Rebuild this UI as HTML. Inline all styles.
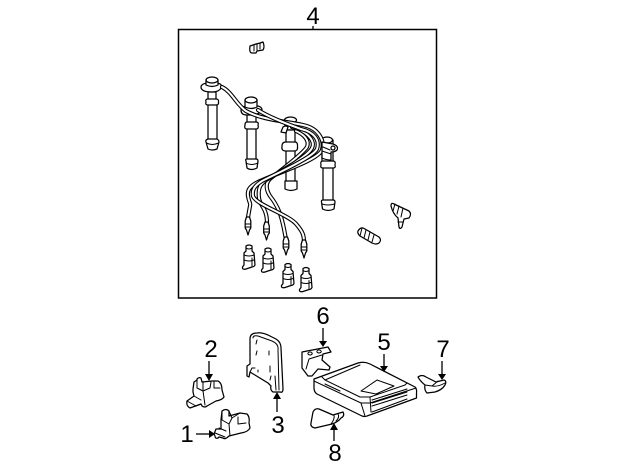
<!DOCTYPE html>
<html><head><meta charset="utf-8"><style>
html,body{margin:0;padding:0;background:#fff}
svg{display:block}
text{font-family:"Liberation Sans",sans-serif;font-size:24px;fill:#000;text-anchor:middle}
.l{fill:#fff;stroke:#000;stroke-width:1.25;stroke-linejoin:round;stroke-linecap:round}
.n{fill:none;stroke:#000;stroke-width:1;stroke-linejoin:round;stroke-linecap:round}
.w{fill:none;stroke:#000;stroke-width:4.200;stroke-linecap:round;stroke-linejoin:round}
.wi{fill:none;stroke:#fff;stroke-width:2;stroke-linecap:round;stroke-linejoin:round}
.a{stroke:#000;stroke-width:1.300;fill:none}
</style></head><body>
<svg width="640" height="471" viewBox="0 0 640 471" xmlns="http://www.w3.org/2000/svg">
<defs>
<g id="plug"><path class="l" d="M-1.500-9 L1.500-9 L2.800-5 L2.800 2 L1.500 4 L0 9 L-1.500 4 L-2.800 2 L-2.800-5Z"/><path class="n" d="M-2.800-2H2.800M-2.800 1H2.800"/></g>
<g id="boot"><path class="l" d="M-3-11 Q0-13 3-11 L3-6 L5-4 L6 8 Q5 10 3 10 L-3 12 Q-7 13-6.500 10 L-5 8 L-5-4 L-3-6Z"/><path class="n" d="M-5-2 Q0 0 5-2 M-5 3 Q0 5 5 3 M-3-9 Q0-7 3-9 M3 1 L3 9"/></g>
</defs>
<rect x="178.500" y="29.500" width="258" height="268.500" fill="#fff" stroke="#000" stroke-width="1.500"/>
<path class="a" d="M313 26V29"/>
<text x="313" y="24">4</text>

<!-- clip top -->
<path class="l" d="M250 46 L256 44 L260 43 L263 42 Q265 47 263 50 L257 51 L256 53 L252 53 Q249 53 250 46Z"/>
<path class="n" d="M254 45V51M257 44V50M260 43V49"/>

<!-- coil 3 -->
<path class="l" d="M285 120 V130 H296 V120Z"/>
<ellipse class="l" cx="290.500" cy="120" rx="6" ry="3"/>
<path class="l" d="M286 130 L286 182 L295 182 L295 130Z"/>
<path class="l" d="M285 181 L285 189 Q291 192 297 189 L297 181Z"/>
<path class="l" d="M282 146 Q282 142 286 142 L295 142 Q298 142 297.500 147 Q298 151 294 151 L286 151 Q281 151 282 146Z"/>
<!-- coil 4 -->
<path class="l" d="M323 160 L323 202 L333 202 L333 160Z"/>
<path class="l" d="M321.500 202 Q321 200 323 200 L333 200 Q335 200 335 202 L334 209 Q328 212 322.500 209Z"/>
<path class="n" d="M322 204 Q328 206 334.500 204"/>
<path class="l" d="M322 140 V163 H333 V140Z"/>
<ellipse class="l" cx="327" cy="140" rx="5.500" ry="3"/>
<path class="l" d="M321 165 Q320 161 323 161 L333 161 Q336 161 335 165 Q336 168 333 168 L323 168 Q320 168 321 165Z"/>
<!-- coil 1 -->
<path class="l" d="M208 100 L208 141 L217 141 L217 100Z"/>
<path class="l" d="M206 142 Q205 140 208 139 L217 139 Q219 140 219 142 L217 149 Q212 151 208 149Z"/>
<path class="n" d="M206.500 143 Q212 146 218.500 143"/>
<path class="l" d="M208 92 L216 92 L216 100 H208Z"/>
<path class="l" d="M206 102 Q205 99 208 99 L216 99 Q219 99 218.500 102 Q219 105 216 105 L208 105 Q205 105 206 102Z"/>
<path class="l" d="M201 87 Q201 84 207 83 L217 83 Q223 84 221 88 Q219 92 212 92 Q201 92 201 87Z"/>
<path class="l" d="M206 80 V85 Q212 88 218 85 V80"/>
<ellipse class="l" cx="212" cy="80" rx="6" ry="3"/>
<!-- coil 2 -->
<path class="l" d="M247 112 L247 160 L256 160 L256 112Z"/>
<path class="l" d="M246 161 Q245 159 247 159 L256 159 Q258 159 258 161 L257 168 Q251 171 247 168Z"/>
<path class="n" d="M246 163 Q251 166 258 163"/>
<path class="l" d="M245 125 Q245 122 247 122 L256 122 Q259 122 258 125 Q259 129 256 129 L247 129 Q244 129 245 125Z"/>
<path class="l" d="M241 110 Q241 107 246 106 L258 106 Q262 107 262 110 Q259 115 252 115 L247 115 Q241 115 241 110Z"/>
<path class="l" d="M245 100 V107 Q251 110 257 107 V100"/>
<ellipse class="l" cx="251" cy="100" rx="6" ry="3"/>

<!-- wires -->
<g>
<path class="w" d="M296 131 C303 134 310 140 307 147 C303 153 288 165 271 178 C266 182 265 188 270 196 C278 206 282 215 286 240"/>
<path class="wi" d="M296 131 C303 134 310 140 307 147 C303 153 288 165 271 178 C266 182 265 188 270 196 C278 206 282 215 286 240"/>
<path class="w" d="M292 127 C305 130 316 140 312 148 C308 156 285 169 266 180 C259 185 258 190 259 198 C260 206 267 208 267 223"/>
<path class="wi" d="M292 127 C305 130 316 140 312 148 C308 156 285 169 266 180 C259 185 258 190 259 198 C260 206 267 208 267 223"/>
<path class="w" d="M222 87 C232 92 236 104 246 111 C262 120 285 121 303 125 C318 128 325 140 322 150 C318 160 280 172 258 182 C250 186 247 190 248 196 C249 203 251 203 250 206 L247.500 220"/>
<path class="wi" d="M222 87 C232 92 236 104 246 111 C262 120 285 121 303 125 C318 128 325 140 322 150 C318 160 280 172 258 182 C250 186 247 190 248 196 C249 203 251 203 250 206 L247.500 220"/>
<path class="w" d="M258 110 C270 118 290 125 301 129 C314 132 320 140 317 149 C313 157 282 171 262 181 C254 186 252 190 253 196 C256 205 290 215 297 225 C303 232 304 236 304 242"/>
<path class="wi" d="M258 110 C270 118 290 125 301 129 C314 132 320 140 317 149 C313 157 282 171 262 181 C254 186 252 190 253 196 C256 205 290 215 297 225 C303 232 304 236 304 242"/>
</g>
<path class="l" d="M322 142 L333 144 Q339 146 337 150 Q335 152 331 152 L331 160 Q326 160 322 158 Z"/>
<path class="n" d="M323 147 L330 150 M322 151 L331 154"/>
<circle class="l" cx="333" cy="148" r="2"/>
<path class="l" d="M283 127 Q286 125 288 127 L286 133 L281 132Z"/>

<!-- plugs -->
<use href="#plug" x="248" y="226"/>
<use href="#plug" x="266.500" y="231"/>
<use href="#plug" x="286" y="246"/>
<use href="#plug" x="304" y="249"/>
<!-- boots -->
<use href="#boot" x="249" y="257"/>
<use href="#boot" x="268" y="260"/>
<use href="#boot" x="288" y="275.500"/>
<use href="#boot" x="306" y="279.500"/>

<!-- right clips -->
<path class="l" d="M358 231 Q361 226 365 229 L379 237 Q382 240 379 243 Q376 245 372 243 L360 236 Q357 233 358 231Z"/>
<path class="n" d="M362 228 L360 236M366 230 L364 238M370 232 L368 240M374 235 L372 242"/>
<path class="l" d="M391 206 Q391 202 394 204 L409 211 Q412 214 409 218 L404 219 L402 227 Q400 230 399 227 L398 218 Q393 214 391 206Z"/>
<path class="n" d="M395 204 L393 211M399 206 L397 214M403 208 L401 217M398 222 L403 222"/>

<!-- 2 -->
<path class="l" d="M193 389 L194 382 L197 380 L197 379 Q199 377 201 378 L202 382 L212 381 L218 381 Q222 383 222 390 L224 397 Q222 400 216 401 L207 406 Q205 408 202 406 L201 404 L190 408 Q186 406 187 401 L194 396 L193 392Z"/>
<path class="n" d="M197 380 L197 388 L203 391 L203 382M203 391 L210 388 L211 382M214 381 L214 388 L220 388M203 391 L205 405M187 401 L196 406 L201 404M194 396 L201 400"/>
<!-- 1 -->
<path class="l" d="M221 420 L222 411 Q226 408 229 411 L229 416 L240 413 L247 414 Q250 417 249 423 L250 428 Q248 432 241 433 L229 436 Q225 440 223 438 L219 437 L218 438 Q215 439 215 436 L214 434 L216 429 L221 429Z"/>
<path class="n" d="M222 411 L222 420 L229 424 L232 418 L229 411M232 418 L240 413M238 417 L238 424 L246 423M229 424 L230 436M215 433 L225 437M219 428 L226 431"/>

<!-- 3 -->
<path class="l" d="M250 339 Q250 333 257 333 Q262 332 270 336 L276 339 Q281 342 281 348 L283 389 Q283 393 280 392 L273 392 Q270 390 271 386 L268 383 L250 372 L249 377 L247 376 L247 366 L250 364Z"/>
<path class="n" d="M253 338 Q253 335 258 336 L272 341 Q279 344 278 350 L279 390M275 376 L276 390M255 368 L252 368 L250 372M257 340 L256 344M269 351 L269 355M270 366 L270 372M257 351 L256 355M258 370 L258 372M271 376 L270 380"/>
<!-- 6 -->
<path class="l" d="M302 352 L328 347 L331 352 L323 354 L322 360 L330 367 L329 370 L318 369 L312 376 L308 376 L302 368 Z"/>
<path class="n" d="M306 369 L309 359 L322 355M310 352 A2.200 1.500 0 1 0 310.100 352M319 350 A2.200 1.500 0 1 0 319.100 350"/>
<!-- 5 ecu -->
<path class="l" d="M314 379 L358 363 Q364 361 370 364 L415 387 Q417 389 416.500 393 L416.500 398 L367 416 Q365 417 362 416 L317 394 Q314 392 314 388Z"/>
<path class="n" d="M314 381 L361 403 L365 416 M361 403 L370 403 L416 388 M322 377 L325 380 L360 397 L370 397 L405 385 L407 383 M325 380 L360 365 M370 397 L371 412 M361 391 L377 380 L394 386 L376 394 L361 391 M325 384 L340 391"/>
<path class="n" d="M372 400 L407 389 M372 403 L407 392 M372 406 L407 395 M372 412 L407 399"/>
<!-- 7 -->
<path class="l" d="M418 377 Q422 374 426 377 L436 382 L444 380 Q447 381 445 385 Q442 390 435 392 L427 393 Q424 390 425 385 Q420 381 418 377Z"/>
<path class="n" d="M425 385 L432 386 L438 381M432 386 Q438 387 445 383"/>
<!-- 8 -->
<path class="l" d="M313 412 Q315 408 319 409 L333 415 L343 412 Q345 416 341 418 Q338 422 332 424 L315 428 Q310 427 311 423 Z"/>
<path class="n" d="M334 415 Q335 419 331 424M338 414 Q340 417 336 421"/>

<!-- labels & leaders -->
<g>
<text x="211" y="357">2</text><path class="a" d="M209 361V376"/><path d="M205 374H213L209 381Z"/>
<text x="187" y="442">1</text><path class="a" d="M196 434H212"/><path d="M209 430V438L215 434Z"/>
<text x="278" y="433">3</text><path class="a" d="M277 412V397"/><path d="M273 399H281L277 392Z"/>
<text x="323" y="324">6</text><path class="a" d="M323 328V343"/><path d="M319 341H327L323 347Z"/>
<text x="384" y="350">5</text><path class="a" d="M384 354V367"/><path d="M380 366H388L384 372Z"/>
<text x="443" y="357">7</text><path class="a" d="M442 361V376"/><path d="M438 374H446L442 380Z"/>
<text x="335" y="461">8</text><path class="a" d="M334 441V428"/><path d="M330 430H338L334 423Z"/>
</g>
</svg>
</body></html>
